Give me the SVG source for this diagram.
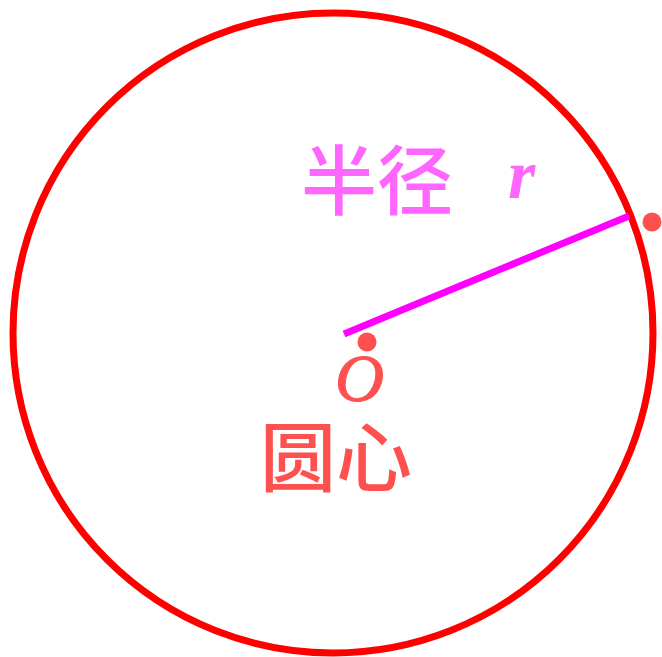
<svg xmlns="http://www.w3.org/2000/svg" width="662" height="657" viewBox="0 0 662 657">
<style>
.cjk{font-family:"Noto Sans CJK SC","Noto Sans CJK JP",sans-serif;font-weight:500;font-size:76px}
.it{font-family:"Liberation Serif",serif;font-style:italic}
</style>
<rect width="662" height="657" fill="#fff"/>
<g id="circle"><circle cx="333" cy="333" r="320" fill="none" stroke="#ff0000" stroke-width="7"/></g>
<g id="connectors"><line x1="344" y1="334" x2="629" y2="216" stroke="#ff00ff" stroke-width="7"/></g>
<g id="center"><circle cx="367" cy="342" r="9.5" fill="#ff5050"/>
<text class="it" x="335" y="401" font-size="68" fill="#ff5050" stroke="#ff5050" stroke-width="1">O</text>
<text class="cjk" x="260" y="486" fill="#ff5050">圆心</text></g>
<g id="point"><circle cx="652" cy="222" r="9.5" fill="#ff5050"/></g>
<g id="radius"><text class="cjk" x="301" y="209" fill="#ff66ff">半径</text>
<text class="it" x="508" y="198" font-size="70" font-weight="bold" fill="#ff66ff">r</text></g>
</svg>
